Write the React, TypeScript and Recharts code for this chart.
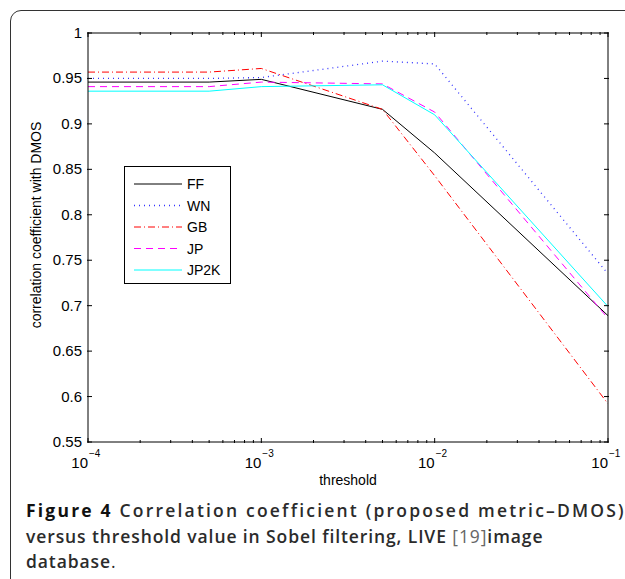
import React from 'react';
import { LineChart, Line, XAxis, YAxis, Legend } from 'recharts';

// threshold values (log scale)
const thresholds = [1e-4, 5e-4, 1e-3, 5e-3, 1e-2, 1e-1];

// correlation coefficient with DMOS, per distortion type
const ffValues = [0.946, 0.946, 0.949, 0.916, 0.868, 0.689];
const wnValues = [0.950, 0.950, 0.951, 0.969, 0.966, 0.735];
const gbValues = [0.957, 0.957, 0.961, 0.916, 0.843, 0.592];
const jpValues = [0.941, 0.941, 0.946, 0.944, 0.913, 0.686];
const jp2kValues = [0.936, 0.936, 0.941, 0.943, 0.910, 0.699];

const yTicks = [0.55, 0.6, 0.65, 0.7, 0.75, 0.8, 0.85, 0.9, 0.95, 1];
const decades = [-4, -3, -2, -1];

const SERIES = [
    { key: 'FF', color: '#000000', dash: undefined as string | undefined },
    { key: 'WN', color: '#3333ff', dash: '1 4' },
    { key: 'GB', color: '#ff0000', dash: '7 3 1 3' },
    { key: 'JP', color: '#ff00ff', dash: '7 5' },
    { key: 'JP2K', color: '#00ffff', dash: undefined },
];

const chartData = thresholds.map((t, i) => ({
    t,
    FF: ffValues[i],
    WN: wnValues[i],
    GB: gbValues[i],
    JP: jpValues[i],
    JP2K: jp2kValues[i],
}));

// major + minor ticks for the log axis
const xTicks: number[] = [];
decades.forEach((d) => {
    if (d === -1) {
        xTicks.push(0.1);
        return;
    }
    for (let k = 1; k <= 9; k++) xTicks.push(Number((k * Math.pow(10, d)).toPrecision(3)));
});

const FONT = '"Liberation Sans", Arial, Helvetica, sans-serif';
const TICK_LEN = 5;

const isDecade = (v: number) => Math.abs(Math.log10(v) - Math.round(Math.log10(v))) < 1e-6;

// eslint-disable-next-line @typescript-eslint/no-explicit-any
const BottomTick = (props: any) => {
    const { x, y, payload } = props;
    const v = payload.value as number;
    const major = isDecade(v);
    const ay = y - 1;
    return (
        <g>
            <line x1={x} x2={x} y1={ay} y2={ay - (major ? TICK_LEN : 3)} stroke="#000" />
            {major && (
                <text x={x} y={ay + 25} fontFamily={FONT} fontSize={15} fill="#000" textAnchor="end">
                    10
                </text>
            )}
            {major && (
                <text x={x + 1} y={ay + 14} fontFamily={FONT} fontSize={10} fill="#000">
                    {'\u2212' + Math.abs(Math.round(Math.log10(v)))}
                </text>
            )}
        </g>
    );
};

// eslint-disable-next-line @typescript-eslint/no-explicit-any
const TopTick = (props: any) => {
    const { x, y, payload } = props;
    const major = isDecade(payload.value);
    const ay = y + 1;
    return <line x1={x} x2={x} y1={ay} y2={ay + (major ? TICK_LEN : 3)} stroke="#000" />;
};

// eslint-disable-next-line @typescript-eslint/no-explicit-any
const LeftTick = (props: any) => {
    const { x, y, payload } = props;
    const ax = x + 1;
    return (
        <g>
            <line x1={ax} x2={ax + TICK_LEN} y1={y} y2={y} stroke="#000" />
            <text x={ax - 5} y={y + 5} fontFamily={FONT} fontSize={15} fill="#000" textAnchor="end">
                {String(payload.value)}
            </text>
        </g>
    );
};

// eslint-disable-next-line @typescript-eslint/no-explicit-any
const RightTick = (props: any) => {
    const { x, y } = props;
    const ax = x - 1;
    return <line x1={ax} x2={ax - TICK_LEN} y1={y} y2={y} stroke="#000" />;
};

const LegendBox = () => (
    <div style={{ width: 105, height: 116, border: '1px solid #000', background: '#fff' }}>
        <svg width={105} height={116} style={{ display: 'block' }}>
            {SERIES.map((s, i) => {
                const cy = 17 + i * 21.5;
                return (
                    <g key={s.key}>
                        <line x1={9} x2={57} y1={cy} y2={cy} stroke={s.color} strokeWidth={s.key === 'WN' ? 1.3 : 1} strokeDasharray={s.dash} />
                        <text x={62} y={cy + 5} fontFamily={FONT} fontSize={14} fill="#000">
                            {s.key}
                        </text>
                    </g>
                );
            })}
        </svg>
    </div>
);

export default function App() {
    return (
        <div style={{ position: 'absolute', left: 0, top: 0, width: 625, height: 579, overflow: 'hidden', background: '#fff' }}>
            {/* figure frame */}
            <div
                style={{
                    position: 'absolute',
                    left: 10,
                    top: 10,
                    width: 700,
                    height: 700,
                    border: '1.5px solid #333',
                    borderRadius: 11,
                }}
            />
            <div style={{ position: 'absolute', left: 0, top: 0 }}>
                <LineChart
                    width={625}
                    height={500}
                    data={chartData}
                    margin={{ top: 32, right: 16, left: 87, bottom: 57 }}
                >
                    <XAxis
                        dataKey="t"
                        type="number"
                        scale="log"
                        domain={[1e-4, 1e-1]}
                        ticks={xTicks}
                        interval={0}
                        height={1}
                        tickSize={0}
                        tickLine={false}
                        tick={<BottomTick />}
                        axisLine={{ stroke: '#000' }}
                        allowDataOverflow
                        label={{
                            // eslint-disable-next-line @typescript-eslint/no-explicit-any
                            content: (p: any) => (
                                <text
                                    x={p.viewBox.x + p.viewBox.width / 2}
                                    y={p.viewBox.y + 43}
                                    fontFamily={FONT}
                                    fontSize={14}
                                    textAnchor="middle"
                                    fill="#000"
                                >
                                    threshold
                                </text>
                            ),
                        }}
                    />
                    <XAxis
                        xAxisId="top"
                        orientation="top"
                        dataKey="t"
                        type="number"
                        scale="log"
                        domain={[1e-4, 1e-1]}
                        ticks={xTicks}
                        interval={0}
                        height={1}
                        tickSize={0}
                        tickLine={false}
                        tick={<TopTick />}
                        axisLine={{ stroke: '#000' }}
                        allowDataOverflow
                    />
                    <YAxis
                        type="number"
                        domain={[0.55, 1]}
                        ticks={yTicks}
                        interval={0}
                        width={1}
                        tickSize={0}
                        tickLine={false}
                        tick={<LeftTick />}
                        axisLine={{ stroke: '#000' }}
                        allowDataOverflow
                        label={{
                            content: () => {
                                const cx = 41;
                                const cy = 225;
                                return (
                                    <text
                                        x={cx}
                                        y={cy}
                                        transform={`rotate(-90 ${cx} ${cy})`}
                                        fontFamily={FONT}
                                        fontSize={14}
                                        textAnchor="middle"
                                        fill="#000"
                                    >
                                        correlation coefficient with DMOS
                                    </text>
                                );
                            },
                        }}
                    />
                    <YAxis
                        yAxisId="right"
                        orientation="right"
                        type="number"
                        domain={[0.55, 1]}
                        ticks={yTicks}
                        interval={0}
                        width={1}
                        tickSize={0}
                        tickLine={false}
                        tick={<RightTick />}
                        axisLine={{ stroke: '#000' }}
                        allowDataOverflow
                    />
                    <Legend
                        layout="vertical"
                        align="center"
                        verticalAlign="middle"
                        content={() => <LegendBox />}
                        wrapperStyle={{ position: 'absolute', left: 124, top: 166, width: 'auto' }}
                    />
                    {SERIES.map((s) => (
                        <Line
                            key={s.key}
                            type="linear"
                            dataKey={s.key}
                            stroke={s.color}
                            strokeWidth={s.key === 'WN' ? 1.3 : 1}
                            strokeDasharray={s.dash}
                            dot={false}
                            activeDot={false}
                            isAnimationActive={false}
                        />
                    ))}
                </LineChart>
            </div>
            {/* caption */}
            <div
                style={{
                    position: 'absolute',
                    left: 26,
                    top: 498,
                    width: 589,
                    fontFamily: '"Open Sans", sans-serif',
                    fontSize: 17.5,
                    lineHeight: '25.5px',
                    color: '#2b2b2b',
                    fontWeight: 600,
                    letterSpacing: 0.9,
                    whiteSpace: 'nowrap',
                }}
            >
                <div style={{ textAlign: 'justify', textAlignLast: 'justify', letterSpacing: 2.2 }}>
                    <span style={{ fontWeight: 700, color: '#111' }}>Figure 4</span> Correlation coefficient (proposed metric–DMOS)
                </div>
                <div>
                    versus threshold value in Sobel filtering, LIVE <span style={{ fontWeight: 400, color: '#666' }}>[19]</span>image
                </div>
                <div>
                    database<span style={{ fontWeight: 400 }}>.</span>
                </div>
            </div>
        </div>
    );
}
